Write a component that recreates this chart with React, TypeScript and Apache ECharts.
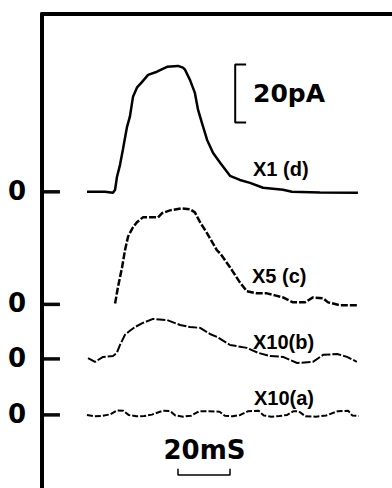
import React, { useEffect, useRef } from "react";
import * as echarts from "echarts";

// Trace (d) X1 : time (ms) and current (pA, display)
const tD = [0, 6.9, 10, 10.8, 11.5, 12.7, 13.8, 15.4, 16.5, 17.7, 19.2, 21.2, 23.5, 26.9, 30.8, 35, 36.9, 37.7, 39.6, 41.5, 42.7, 44.2, 46.2, 48.5, 51.2, 55, 58.8, 62.7, 67.7, 75.4, 78.8, 89.6, 104.2];
const vD = [0, 0, -0.3, 0.7, 5, 9.3, 14.5, 22.4, 25.9, 32.8, 35.9, 37.9, 40.3, 41.4, 43.1, 43.4, 42.8, 42.1, 38.6, 34.1, 28.3, 23.8, 17.9, 13.4, 10, 5.5, 4.1, 3.1, 1.4, 0.7, 0, -0.2, -0.3];

// Trace (c) X5
const tC = [10.8, 11.9, 13.5, 14.6, 15.8, 17.7, 19.2, 21.5, 23.1, 27.3, 28.8, 31.9, 36.5, 39.6, 41.5, 43.5, 46.2, 50, 51.2, 55, 58.8, 61.5, 65.4, 69.2, 72.3, 75.4, 79.2, 83.8, 86.9, 90.8, 92.7, 97.3, 104.2];
const vC = [0.3, 5.9, 12.8, 18.6, 23.4, 26.6, 28.3, 30, 30, 30, 31.4, 32.4, 33.1, 32.8, 31.7, 28.3, 24.5, 18.6, 17.6, 12.8, 7.6, 4.5, 3.8, 3.8, 3.1, 2.4, 0.7, 0.7, 2.4, 2.1, 0.7, -0.3, -0.3];

// Trace (b) X10
const tB = [0.4, 3.1, 6.2, 10, 11.5, 12.7, 14.6, 16.5, 18.5, 21.5, 25.4, 30.8, 35.8, 39.6, 43.5, 47.3, 50, 55, 61.5, 65.8, 70.4, 75.4, 80.8, 86.9, 90.8, 96.2, 100, 103.8];
const vB = [0.3, -1, 0.7, 1, 2.1, 4.8, 8.3, 9.7, 11, 12.4, 13.8, 13.4, 11.7, 11, 10.7, 8.6, 7.6, 4.8, 3.8, 2.1, 1, 0.7, -1.4, -1, 1.4, 1.7, 0.7, -1];

// Trace (a) X10
const tA = [0, 3, 6, 9, 11.5, 14, 16, 19, 22, 25, 29, 32, 34, 37, 40, 43, 47, 51, 53, 56, 59, 62, 66, 68, 71, 74, 77, 79.5, 81.5, 84, 88, 92, 96.5, 100.5, 102, 104.5];
const vA = [0, -0.5, -0.3, 0.2, 1.5, 1.4, 0, -0.5, -0.4, 0.1, 1.4, 1.3, -0.2, -0.6, -0.3, 1.2, 1.3, 1.1, -0.3, -0.5, 0, 1.3, 1.4, -0.2, -0.6, -0.4, 0, 1.3, 1.2, -0.5, -0.6, -0.2, 1.3, 1.4, -0.2, -0.4];

// Baselines (display offsets) of traces a, b, c, d
const baselines = [25.2, 44.5, 63.3, 102.1];
const traceNames = ["X10(a)", "X10(b)", "X5 (c)", "X1 (d)"];
const zeroLabel = "0";

// Axis range (ms) and zero-tick extent (ms)
const tMin = -17.3;
const tMax = 117.3;
const zeroTickEnd = -10.4;

// Scale bars
const pABarT = [61.2, 57, 57, 61.2];
const pABarV = [146, 146, 126, 126];
const msBarT = [35, 35, 55, 55];
const msBarV = [6.6, 4.5, 4.5, 6.6];

const zip = (t: number[], v: number[], off: number) => t.map((x, i) => [x, v[i] + off]);

export default function App() {
  const ref = useRef<HTMLDivElement>(null);
  useEffect(() => {
    const chart = echarts.init(ref.current!, undefined, { renderer: "svg" });
    const black = "#000";
    const tickColor = "#0a0a0a";
    const labelFont = "Liberation Sans, Arial, sans-serif";
    const bigFont = "DejaVu Sans, sans-serif";
    chart.setOption({
      animation: false,
      backgroundColor: "#fff",
      grid: { left: 42, right: 0, top: 14, bottom: 0 },
      xAxis: {
        type: "value",
        position: "top",
        min: tMin,
        max: tMax,
        axisLine: { show: true, onZero: false, lineStyle: { color: black, width: 4 } },
        axisTick: { show: false },
        axisLabel: { show: false },
        splitLine: { show: false },
      },
      yAxis: {
        type: "value",
        min: 0,
        max: 163.4,
        axisLine: { show: true, onZero: false, lineStyle: { color: black, width: 4 } },
        axisTick: { show: false },
        axisLabel: { show: false },
        splitLine: { show: false },
      },
      series: [
        {
          type: "line",
          name: traceNames[3],
          data: zip(tD, vD, baselines[3]),
          symbol: "none",
          lineStyle: { color: black, width: 2.5 },
        },
        {
          type: "line",
          name: traceNames[2],
          data: zip(tC, vC, baselines[2]),
          symbol: "none",
          lineStyle: { color: black, width: 2.5, type: [7, 2] },
        },
        {
          type: "line",
          name: traceNames[1],
          data: zip(tB, vB, baselines[1]),
          symbol: "none",
          lineStyle: { color: black, width: 2, type: [9, 2] },
        },
        {
          type: "line",
          name: traceNames[0],
          data: zip(tA, vA, baselines[0]),
          symbol: "none",
          lineStyle: { color: black, width: 2, type: [6, 2] },
        },
        {
          type: "line",
          data: zip(pABarT, pABarV, 0),
          symbol: "none",
          lineStyle: { color: black, width: 2 },
        },
        {
          type: "line",
          data: zip(msBarT, msBarV, 0),
          symbol: "none",
          lineStyle: { color: black, width: 1.5 },
        },
      ],
    });
    const zeroTexts: any[] = [];
    const tickRects: any[] = [];
    baselines.forEach((b) => {
      const p = chart.convertToPixel({ gridIndex: 0 }, [tMin, b]) as number[];
      const q = chart.convertToPixel({ gridIndex: 0 }, [zeroTickEnd, b]) as number[];
      tickRects.push({
        type: "rect",
        shape: { x: p[0], y: p[1] - 1.75, width: q[0] - p[0], height: 3.5 },
        style: { fill: tickColor },
      });
      zeroTexts.push({
        type: "text",
        x: p[0] - 16,
        y: p[1] - 1,
        style: { text: zeroLabel, font: `bold 26px ${bigFont}`, fill: black, align: "right", verticalAlign: "middle" },
      });
    });
    chart.setOption({
      graphic: [
        ...tickRects,
        ...zeroTexts,
        { type: "text", x: 253, y: 169, style: { text: traceNames[3], font: `bold 20px ${labelFont}`, fill: black, verticalAlign: "middle" } },
        { type: "text", x: 252, y: 275.5, style: { text: traceNames[2], font: `bold 20px ${labelFont}`, fill: black, verticalAlign: "middle" } },
        { type: "text", x: 253, y: 341.5, style: { text: traceNames[1], font: `bold 20px ${labelFont}`, fill: black, verticalAlign: "middle" } },
        { type: "text", x: 254, y: 398, style: { text: traceNames[0], font: `bold 20px ${labelFont}`, fill: black, verticalAlign: "middle" } },
        { type: "text", x: 253, y: 93.5, style: { text: "20pA", font: `bold 25px ${bigFont}`, fill: black, verticalAlign: "middle" } },
        { type: "text", x: 204.5, y: 450, style: { text: "20mS", font: `bold 26px ${bigFont}`, fill: black, verticalAlign: "middle", align: "center" } },
      ],
    });
    return () => chart.dispose();
  }, []);
  return <div ref={ref} style={{ position: "absolute", left: 0, top: 0, width: 392, height: 488 }} />;
}
